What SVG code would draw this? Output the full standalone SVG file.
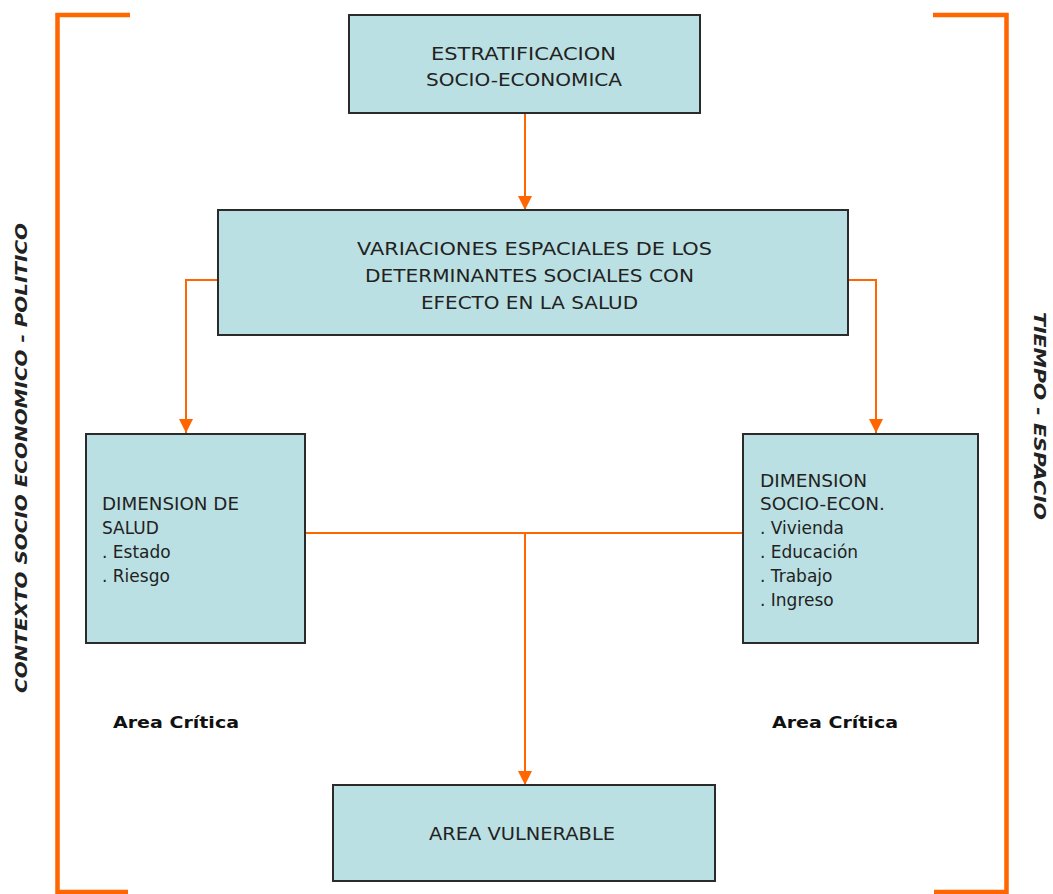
<svg xmlns="http://www.w3.org/2000/svg" width="1053" height="894" viewBox="0 0 1053 894">
<defs>
<style>
.box{fill:#BBE0E3;stroke:#2b2b2b;stroke-width:2}
.t{font-family:"DejaVu Sans","Liberation Sans",sans-serif;font-size:17px;fill:#222}
.br{fill:none;stroke:#FF6600;stroke-width:4.5}
.con{fill:none;stroke:#FF6600;stroke-width:2}
.side{font-family:"DejaVu Sans","Liberation Sans",sans-serif;font-size:16px;font-style:italic;font-weight:bold;fill:#222;text-anchor:middle}
.ac{font-family:"DejaVu Sans","Liberation Sans",sans-serif;font-size:16px;font-weight:bold;fill:#111}
</style>
<marker id="arr" viewBox="0 0 14 14" refX="14" refY="7" markerWidth="14" markerHeight="14" markerUnits="userSpaceOnUse" orient="auto">
<path d="M0,0 L14,7 L0,14 Z" fill="#FF6600"/>
</marker>
</defs>
<rect width="1053" height="894" fill="#ffffff"/>
<g id="brackets">
<path class="br" d="M130,15 H57.5 V892 H128"/>
<path class="br" d="M933,15 H1006.5 V892 H934"/>
</g>
<g id="side-labels">
<text class="side" transform="translate(27,458) rotate(-90)" textLength="470" lengthAdjust="spacingAndGlyphs">CONTEXTO SOCIO ECONOMICO - POLITICO</text>
<text class="side" transform="translate(1034,416) rotate(90)" textLength="208" lengthAdjust="spacingAndGlyphs">TIEMPO - ESPACIO</text>
</g>
<g id="connectors">
<line class="con" x1="525" y1="113" x2="525" y2="210" marker-end="url(#arr)"/>
<polyline class="con" points="218,280 186,280 186,433" marker-end="url(#arr)"/>
<polyline class="con" points="848,280 876,280 876,433" marker-end="url(#arr)"/>
<line class="con" x1="305" y1="533" x2="743" y2="533"/>
<line class="con" x1="525" y1="533" x2="525" y2="785" marker-end="url(#arr)"/>
</g>
<g id="n-estratificacion">
<rect class="box" x="349" y="15" width="351" height="98"/>
<text class="t" x="431" y="60" textLength="185" lengthAdjust="spacingAndGlyphs">ESTRATIFICACION</text>
<text class="t" x="426" y="86" textLength="196" lengthAdjust="spacingAndGlyphs">SOCIO-ECONOMICA</text>
</g>
<g id="n-variaciones">
<rect class="box" x="218" y="210" width="630" height="125"/>
<text class="t" x="357" y="255" textLength="355" lengthAdjust="spacingAndGlyphs">VARIACIONES ESPACIALES DE LOS</text>
<text class="t" x="365" y="282" textLength="329" lengthAdjust="spacingAndGlyphs">DETERMINANTES SOCIALES CON</text>
<text class="t" x="421" y="309" textLength="217" lengthAdjust="spacingAndGlyphs">EFECTO EN LA SALUD</text>
</g>
<g id="n-salud">
<rect class="box" x="86" y="434" width="219" height="209"/>
<text class="t" x="102" y="510" textLength="137" lengthAdjust="spacingAndGlyphs">DIMENSION DE</text>
<text class="t" x="102" y="534">SALUD</text>
<text class="t" x="102" y="558">. Estado</text>
<text class="t" x="102" y="582">. Riesgo</text>
</g>
<g id="n-socioecon">
<rect class="box" x="743" y="434" width="235" height="209"/>
<text class="t" x="760" y="487" textLength="107" lengthAdjust="spacingAndGlyphs">DIMENSION</text>
<text class="t" x="760" y="510" textLength="125" lengthAdjust="spacingAndGlyphs">SOCIO-ECON.</text>
<text class="t" x="760" y="534">. Vivienda</text>
<text class="t" x="760" y="558">. Educación</text>
<text class="t" x="760" y="582">. Trabajo</text>
<text class="t" x="760" y="606">. Ingreso</text>
</g>
<g id="n-vulnerable">
<rect class="box" x="333" y="785" width="382" height="96"/>
<text class="t" x="429" y="840" textLength="186" lengthAdjust="spacingAndGlyphs">AREA VULNERABLE</text>
</g>
<g id="labels">
<text class="ac" x="113" y="728" textLength="126" lengthAdjust="spacingAndGlyphs">Area Crítica</text>
<text class="ac" x="772" y="728" textLength="126" lengthAdjust="spacingAndGlyphs">Area Crítica</text>
</g>
</svg>
